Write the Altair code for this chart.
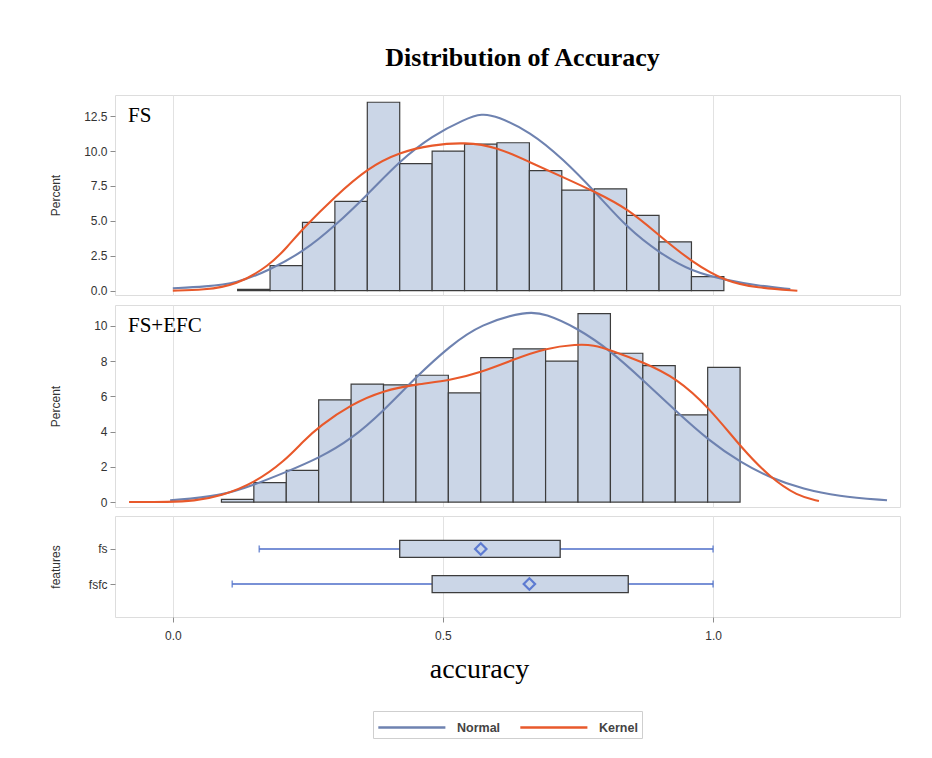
import altair as alt
import pandas as pd

# ---------------- data ----------------
# FS histogram (bin edges, percent)
fs_bin_left = [0.12, 0.18, 0.24, 0.30, 0.36, 0.42, 0.48, 0.54, 0.60, 0.66, 0.72, 0.78, 0.84, 0.90, 0.96]
fs_bin_right = [0.18, 0.24, 0.30, 0.36, 0.42, 0.48, 0.54, 0.60, 0.66, 0.72, 0.78, 0.84, 0.90, 0.96, 1.02]
fs_pct = [0.1, 1.8, 4.9, 6.4, 13.5, 9.1, 10.0, 10.5, 10.6, 8.6, 7.2, 7.3, 5.4, 3.5, 1.0]

# FS+EFC histogram
efc_bin_left = [0.09, 0.15, 0.21, 0.27, 0.33, 0.39, 0.45, 0.51, 0.57, 0.63, 0.69, 0.75, 0.81, 0.87, 0.93, 0.99]
efc_bin_right = [0.15, 0.21, 0.27, 0.33, 0.39, 0.45, 0.51, 0.57, 0.63, 0.69, 0.75, 0.81, 0.87, 0.93, 0.99, 1.05]
efc_pct = [0.15, 1.1, 1.8, 5.8, 6.7, 6.65, 7.2, 6.2, 8.2, 8.7, 8.0, 10.7, 8.45, 7.75, 4.95, 7.65]

# density curves
fs_normal_x = [0.0, 0.06, 0.118, 0.179, 0.242, 0.299, 0.361, 0.42, 0.48, 0.541, 0.572, 0.6, 0.661, 0.722,
               0.782, 0.842, 0.902, 0.961, 1.024, 1.081, 1.143]
fs_normal_y = [0.17, 0.29, 0.52, 1.48, 2.8, 4.6, 6.9, 9.3, 11.1, 12.3, 12.7, 12.5, 11.4, 9.45,
               7.07, 4.45, 2.67, 1.36, 0.76, 0.36, 0.12]
fs_kernel_x = [0.0, 0.057, 0.118, 0.179, 0.211, 0.242, 0.299, 0.361, 0.42, 0.48, 0.541, 0.6, 0.661, 0.722,
               0.782, 0.842, 0.902, 0.961, 1.024, 1.081, 1.156]
fs_kernel_y = [0.0, 0.05, 0.4, 1.8, 3.1, 4.5, 6.7, 8.8, 9.93, 10.45, 10.64, 10.3, 9.2, 8.14,
               7.07, 5.88, 3.9, 2.05, 0.64, 0.21, 0.0]

efc_normal_x = [-0.005, 0.089, 0.152, 0.207, 0.272, 0.33, 0.39, 0.452, 0.513, 0.569, 0.656, 0.689, 0.748,
                0.811, 0.872, 0.931, 0.993, 1.052, 1.106, 1.168, 1.23, 1.322]
efc_normal_y = [0.1, 0.34, 1.0, 1.67, 2.52, 3.56, 5.17, 7.16, 8.86, 10.1, 10.85, 10.7, 9.9,
                8.58, 6.88, 5.17, 3.47, 2.23, 1.38, 0.72, 0.34, 0.1]
efc_kernel_x = [-0.081, -0.005, 0.038, 0.089, 0.152, 0.207, 0.242, 0.272, 0.33, 0.39, 0.452, 0.513, 0.569,
                0.631, 0.689, 0.748, 0.779, 0.811, 0.872, 0.931, 0.993, 1.052, 1.106, 1.156, 1.196]
efc_kernel_y = [0.0, 0.0, 0.06, 0.34, 1.1, 2.33, 3.47, 4.32, 5.55, 6.34, 6.69, 6.91, 7.35,
                8.1, 8.73, 8.96, 8.92, 8.62, 7.92, 7.06, 5.36, 3.09, 1.38, 0.34, 0.06]

# box plot summary
features = ["fs", "fsfc"]
whisker_lo = [0.16, 0.11]
q1 = [0.42, 0.48]
q3 = [0.717, 0.843]
whisker_hi = [1.0, 1.0]
means = [0.57, 0.66]

# ---------------- styles ----------------
BAR_FILL = "#CBD6E7"
BAR_STROKE = "#3C3C3C"
NORMAL_C = "#6E82B0"
KERNEL_C = "#E8592B"
WHISK_C = "#4C6DC8"
SANS = "Liberation Sans"
SERIF = "Liberation Serif"
XDOM = [-0.107, 1.346]
W = 785

x_grid_axis = alt.Axis(labels=False, ticks=False, domain=False, title=None, grid=True,
                       values=[0, 0.5, 1.0], gridColor="#E2E2E2")

color_scale = alt.Scale(domain=["Normal", "Kernel"], range=[NORMAL_C, KERNEL_C])


def curves_df(nx, ny, kx, ky):
    a = pd.DataFrame({"x": nx, "y": ny, "series": "Normal"})
    b = pd.DataFrame({"x": kx, "y": ky, "series": "Kernel"})
    return pd.concat([a, b], ignore_index=True)


def hist_panel(left, right, pct, curves, ydom, yvals, yfmt, label, height, show_legend):
    hist = pd.DataFrame({"l": left, "r": right, "p": pct})
    yaxis = alt.Axis(values=yvals, format=yfmt, title="Percent", grid=False, domain=False,
                     tickColor="#8C8C8C", tickSize=5, labelColor="#333333", labelFont=SANS,
                     labelFontSize=12, labelPadding=3, labelOverlap=False,
                     titleFont=SANS, titleFontSize=12,
                     titleFontWeight="normal", titleColor="#333333", titleX=-60,
                     titleBaseline="middle")
    ys = alt.Scale(domain=ydom, nice=False, zero=False)
    xsc = alt.Scale(domain=XDOM, nice=False, zero=False)
    bars = alt.Chart(hist).mark_bar(fill=BAR_FILL, stroke=BAR_STROKE, strokeWidth=1.2).encode(
        x=alt.X("l:Q", scale=xsc, axis=x_grid_axis),
        x2="r:Q",
        y=alt.Y("p:Q", scale=ys, axis=yaxis),
        y2=alt.datum(0),
    )
    legend = alt.Legend(
        title=None, orient="none", direction="horizontal", legendX=258, legendY=616,
        strokeColor="#CFCFCF", padding=4, symbolType="M-1,0H5", symbolSize=500,
        symbolStrokeWidth=2.5, labelFont=SANS, labelFontSize=12.5, labelFontWeight="bold",
        labelColor="#444444", labelOffset=55, columnPadding=14,
    ) if show_legend else None
    lines = alt.Chart(curves).mark_line(strokeWidth=2.1, interpolate="basis").encode(
        x=alt.X("x:Q", scale=xsc, axis=x_grid_axis),
        y=alt.Y("y:Q", scale=ys, axis=yaxis),
        color=alt.Color("series:N", scale=color_scale,
                        legend=legend if show_legend else None),
        order="x:Q",
        detail="series:N",
    )
    txt = alt.Chart(pd.DataFrame({"t": [label]})).mark_text(
        font=SERIF, fontSize=21, align="left", baseline="top", color="black"
    ).encode(text="t:N", x=alt.value(13), y=alt.value(10))
    return alt.layer(bars, lines, txt).properties(width=W, height=height)


top = hist_panel(fs_bin_left, fs_bin_right, fs_pct,
                 curves_df(fs_normal_x, fs_normal_y, fs_kernel_x, fs_kernel_y),
                 [-0.31, 14.02], [0, 2.5, 5, 7.5, 10, 12.5], ".1f", "FS", 200, True)
mid = hist_panel(efc_bin_left, efc_bin_right, efc_pct,
                 curves_df(efc_normal_x, efc_normal_y, efc_kernel_x, efc_kernel_y),
                 [-0.28, 11.19], [0, 2, 4, 6, 8, 10], "d", "FS+EFC", 202, False)

box_df = pd.DataFrame({"features": features, "lo": whisker_lo, "q1": q1, "q3": q3,
                       "hi": whisker_hi, "mean": means})
xs = alt.Scale(domain=XDOM, nice=False, zero=False)
ysc = alt.Scale(type="point", padding=0.94, domain=features)
x_axis = alt.Axis(values=[0, 0.5, 1.0], format=".1f", title="accuracy", grid=True,
                  gridColor="#E2E2E2", domain=False, tickColor="#8C8C8C", tickSize=5,
                  labelColor="#333333", labelFont=SANS, labelFontSize=12, labelPadding=8,
                  titleFont=SERIF, titleFontSize=28, titleFontWeight="normal",
                  titleColor="black", titlePadding=14, titleX=364)
y_axis = alt.Axis(title="features", domain=False, tickColor="#8C8C8C", tickSize=5,
                  labelColor="#333333", labelFont=SANS, labelFontSize=12, labelPadding=3,
                  titleFont=SANS, titleFontSize=12, titleFontWeight="normal",
                  titleColor="#333333", titleX=-60, titleBaseline="middle")
base = alt.Chart(box_df)
whisk = base.mark_rule(color=WHISK_C, strokeWidth=1.6).encode(
    x=alt.X("lo:Q", scale=xs, axis=x_axis), x2="hi:Q",
    y=alt.Y("features:N", scale=ysc, axis=y_axis))
cap_lo = base.mark_tick(color=WHISK_C, size=7, thickness=1.6, orient="vertical").encode(
    x=alt.X("lo:Q", scale=xs, axis=x_axis), y=alt.Y("features:N", scale=ysc, axis=y_axis))
cap_hi = base.mark_tick(color=WHISK_C, size=7, thickness=1.6, orient="vertical").encode(
    x=alt.X("hi:Q", scale=xs, axis=x_axis), y=alt.Y("features:N", scale=ysc, axis=y_axis))
boxes = base.mark_bar(fill=BAR_FILL, stroke=BAR_STROKE, strokeWidth=1.3, size=17).encode(
    x=alt.X("q1:Q", scale=xs, axis=x_axis), x2="q3:Q",
    y=alt.Y("features:N", scale=ysc, axis=y_axis))
mean_pt = base.mark_point(shape="diamond", filled=False, color="#2F55C9", size=130,
                          strokeWidth=2.2).encode(
    x=alt.X("mean:Q", scale=xs, axis=x_axis), y=alt.Y("features:N", scale=ysc, axis=y_axis))
bot = alt.layer(whisk, cap_lo, cap_hi, boxes, mean_pt).properties(width=W, height=101)

chart = alt.vconcat(top, mid, bot, spacing=6).properties(
    title=alt.Title("Distribution of Accuracy", font=SERIF, fontSize=26, fontWeight="bold",
                    color="black", anchor="middle", dx=48, offset=24),
    padding={"left": 40, "top": 36, "right": 5, "bottom": 5},
).configure_view(stroke="#BDBDBD", strokeWidth=1.5).configure(background="white")

chart.save("out.html", embed_options={"renderer": "svg", "actions": False})
